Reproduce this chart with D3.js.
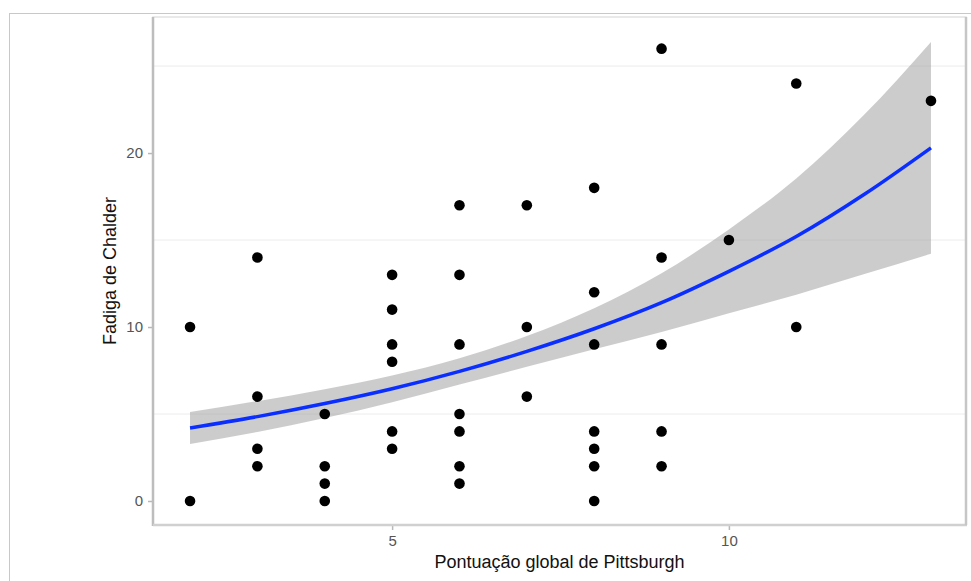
<!DOCTYPE html>
<html>
<head>
<meta charset="utf-8">
<script src="https://cdn.jsdelivr.net/npm/d3@7"></script>
<style>
  body { margin: 0; background: #fff; }
</style>
</head>
<body>
<div id="graph"></div>
<script>
// Pontos observados: pontuação de Pittsburgh (x) e fadiga de Chalder (y)
const pontX = [2, 2, 3, 3, 3, 3, 4, 4, 4, 4, 5, 5, 5, 5, 5, 5,
               6, 6, 6, 6, 6, 6, 6, 7, 7, 7, 8, 8, 8, 8, 8, 8, 8,
               9, 9, 9, 9, 9, 10, 11, 11, 13];
const pontY = [10, 0, 14, 6, 3, 2, 5, 2, 1, 0, 13, 11, 9, 8, 4, 3,
               17, 13, 9, 5, 4, 2, 1, 17, 10, 6, 18, 12, 9, 4, 3, 2, 0,
               26, 14, 9, 4, 2, 15, 24, 10, 23];

// Curva ajustada e intervalo de confiança
const curvaX = [2, 3, 4, 5, 6, 7, 8, 9, 10, 11, 12, 13];
const ajuste = [4.2, 4.85, 5.6, 6.45, 7.45, 8.6, 9.9, 11.4, 13.2, 15.2, 17.6, 20.3];
const inferior = [3.28, 3.97, 4.77, 5.68, 6.69, 7.72, 8.72, 9.71, 10.79, 11.86, 13.03, 14.21];
const superior = [5.12, 5.74, 6.43, 7.22, 8.21, 9.48, 11.08, 13.09, 15.61, 18.54, 22.17, 26.39];

const ticksX = [5, 10];
const ticksY = [0, 10, 20];
const grade = [5, 15, 25];

const pontos = pontX.map((x, i) => ({ x: x, y: pontY[i] }));
const faixa = curvaX.map((x, i) => ({ x: x, fit: ajuste[i], lo: inferior[i], hi: superior[i] }));

const W = 971, H = 581;
const painel = { left: 153, right: 966, top: 17, bottom: 525 };

const svg = d3.select("#graph")
    .append("svg")
    .attr("width", W)
    .attr("height", H)
    .style("font-family", "Liberation Sans, Arial, sans-serif");

// moldura externa (figura recortada)
svg.append("rect")
    .attr("x", 9.5).attr("y", 13.5)
    .attr("width", 1000).attr("height", 1000)
    .attr("fill", "none")
    .attr("stroke", "#c8c8c8")
    .attr("stroke-width", 1);

// Escalas
const x = d3.scaleLinear()
    .domain([1.45, 13.52])
    .range([painel.left, painel.right]);

const y = d3.scaleLinear()
    .domain([-1.38, 27.82])
    .range([painel.bottom, painel.top]);

// linhas de grade fracas
svg.selectAll(".grade")
    .data(grade)
    .enter()
    .append("line")
    .attr("x1", painel.left).attr("x2", painel.right)
    .attr("y1", d => y(d)).attr("y2", d => y(d))
    .attr("stroke", "#ececec")
    .attr("stroke-width", 1);

// borda do painel
svg.append("rect")
    .attr("x", painel.left).attr("y", painel.top)
    .attr("width", painel.right - painel.left)
    .attr("height", painel.bottom - painel.top)
    .attr("fill", "none")
    .attr("stroke", "#e2e2e2")
    .attr("stroke-width", 1.5);

// Intervalo de confiança
svg.append("path")
    .datum(faixa)
    .attr("fill", "#999999")
    .attr("fill-opacity", 0.5)
    .attr("d", d3.area()
        .x(d => x(d.x))
        .y0(d => y(d.lo))
        .y1(d => y(d.hi))
        .curve(d3.curveMonotoneX));

// Curva ajustada
svg.append("path")
    .datum(faixa)
    .attr("fill", "none")
    .attr("stroke", "#0a2eff")
    .attr("stroke-width", 3.5)
    .attr("d", d3.line()
        .x(d => x(d.x))
        .y(d => y(d.fit))
        .curve(d3.curveMonotoneX));

// Pontos
svg.selectAll(".ponto")
    .data(pontos)
    .enter()
    .append("circle")
    .attr("class", "ponto")
    .attr("cx", d => x(d.x))
    .attr("cy", d => y(d.y))
    .attr("r", 5.3)
    .attr("fill", "black");

// Eixos
const eixoY = svg.append("g")
    .attr("transform", "translate(" + painel.left + ",0)")
    .call(d3.axisLeft(y).tickValues(ticksY).tickSize(5).tickPadding(5));

const eixoX = svg.append("g")
    .attr("transform", "translate(0," + painel.bottom + ")")
    .call(d3.axisBottom(x).tickValues(ticksX).tickSize(5).tickPadding(5));

[eixoY, eixoX].forEach(g => {
    g.select(".domain").remove();
    g.selectAll("line").attr("stroke", "#b8b8b8").attr("stroke-width", 1.5);
    g.selectAll("text")
        .style("font-size", "15px")
        .style("font-family", "Liberation Sans, Arial, sans-serif")
        .attr("fill", "#555");
});

// linhas dos eixos (esquerda, baixo, direita)
svg.append("line")
    .attr("x1", painel.left).attr("x2", painel.left)
    .attr("y1", painel.top).attr("y2", painel.bottom + 1)
    .attr("stroke", "#bdbdbd").attr("stroke-width", 2.5);
svg.append("line")
    .attr("x1", painel.left).attr("x2", painel.right + 1)
    .attr("y1", painel.bottom).attr("y2", painel.bottom)
    .attr("stroke", "#d0d0d0").attr("stroke-width", 2.5);
svg.append("line")
    .attr("x1", painel.right).attr("x2", painel.right)
    .attr("y1", painel.top).attr("y2", painel.bottom)
    .attr("stroke", "#c6c6c6").attr("stroke-width", 2.5);

// Títulos dos eixos
svg.append("text")
    .text("Pontuação global de Pittsburgh")
    .attr("x", (painel.left + painel.right) / 2)
    .attr("y", 568)
    .attr("text-anchor", "middle")
    .style("font-size", "18px")
    .style("fill", "#111");

svg.append("text")
    .text("Fadiga de Chalder")
    .attr("transform", "translate(116," + ((painel.top + painel.bottom) / 2) + ") rotate(-90)")
    .attr("text-anchor", "middle")
    .style("font-size", "18px")
    .style("fill", "#111");
</script>
</body>
</html>
